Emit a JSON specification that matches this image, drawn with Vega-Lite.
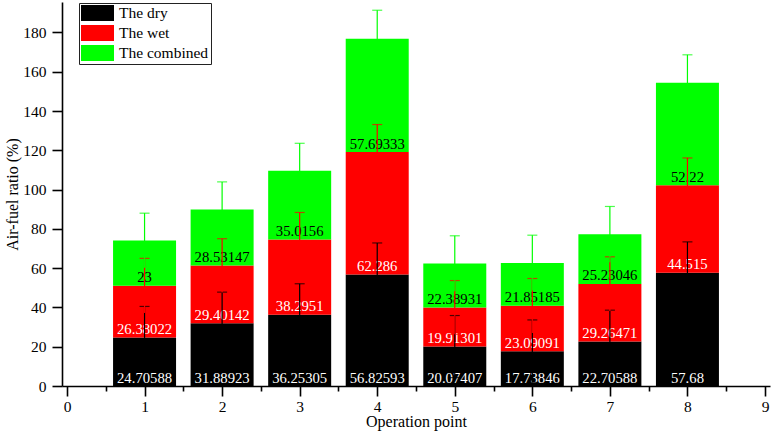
{
  "$schema": "https://vega.github.io/schema/vega-lite/v6.json",
  "width": 708,
  "height": 384,
  "autosize": "none",
  "padding": {"left": 62, "top": 2, "right": 10, "bottom": 46},
  "background": "white",
  "config": {
    "font": "Liberation Serif",
    "view": {"stroke": null},
    "axis": {
      "grid": false,
      "domainColor": "black",
      "domainWidth": 1.6,
      "tickColor": "black",
      "tickWidth": 1.6,
      "labelColor": "black",
      "labelFont": "Liberation Serif",
      "labelFontSize": 15.5,
      "titleFont": "Liberation Serif",
      "titleFontSize": 16,
      "titleFontWeight": "normal",
      "titleColor": "black"
    }
  },
  "data": {
    "values": [
      {"point": 1, "series": "The dry", "order": 0, "value": 24.70588, "err": 15.8},
      {"point": 1, "series": "The wet", "order": 1, "value": 26.38022, "err": 13.9},
      {"point": 1, "series": "The combined", "order": 2, "value": 23, "err": 13.9},
      {"point": 2, "series": "The dry", "order": 0, "value": 31.88923, "err": 15.9},
      {"point": 2, "series": "The wet", "order": 1, "value": 29.40142, "err": 13.7},
      {"point": 2, "series": "The combined", "order": 2, "value": 28.53147, "err": 14.1},
      {"point": 3, "series": "The dry", "order": 0, "value": 36.25305, "err": 15.8},
      {"point": 3, "series": "The wet", "order": 1, "value": 38.2951, "err": 13.8},
      {"point": 3, "series": "The combined", "order": 2, "value": 35.0156, "err": 14.0},
      {"point": 4, "series": "The dry", "order": 0, "value": 56.82593, "err": 16.0},
      {"point": 4, "series": "The wet", "order": 1, "value": 62.286, "err": 14.0},
      {"point": 4, "series": "The combined", "order": 2, "value": 57.69333, "err": 14.5},
      {"point": 5, "series": "The dry", "order": 0, "value": 20.07407, "err": 15.8},
      {"point": 5, "series": "The wet", "order": 1, "value": 19.91301, "err": 13.7},
      {"point": 5, "series": "The combined", "order": 2, "value": 22.38931, "err": 14.1},
      {"point": 6, "series": "The dry", "order": 0, "value": 17.73846, "err": 15.9},
      {"point": 6, "series": "The wet", "order": 1, "value": 23.09091, "err": 13.9},
      {"point": 6, "series": "The combined", "order": 2, "value": 21.85185, "err": 14.1},
      {"point": 7, "series": "The dry", "order": 0, "value": 22.70588, "err": 15.9},
      {"point": 7, "series": "The wet", "order": 1, "value": 29.26471, "err": 13.8},
      {"point": 7, "series": "The combined", "order": 2, "value": 25.23046, "err": 14.2},
      {"point": 8, "series": "The dry", "order": 0, "value": 57.68, "err": 15.7},
      {"point": 8, "series": "The wet", "order": 1, "value": 44.515, "err": 13.9},
      {"point": 8, "series": "The combined", "order": 2, "value": 52.22, "err": 14.2}
    ]
  },
  "transform": [
    {
      "stack": "value",
      "groupby": ["point"],
      "sort": [{"field": "order", "order": "ascending"}],
      "as": ["low", "high"]
    }
  ],
  "encoding": {
    "x": {
      "field": "point",
      "type": "quantitative",
      "scale": {"domain": [0, 9], "nice": false, "zero": false},
      "axis": {
        "title": "Operation point",
        "values": [0, 0.5, 1, 1.5, 2, 2.5, 3, 3.5, 4, 4.5, 5, 5.5, 6, 6.5, 7, 7.5, 8, 8.5, 9],
        "labelExpr": "datum.value % 1 === 0 ? format(datum.value, 'd') : ''",
        "tickSize": {"condition": {"test": "datum.value % 1 !== 0", "value": 5}, "value": 10},
        "labelPadding": 3,
        "titlePadding": -1,
        "labelFlush": false
      }
    }
  },
  "layer": [
    {
      "mark": {"type": "bar", "size": 63},
      "encoding": {
        "y": {
          "field": "low",
          "type": "quantitative",
          "title": "Air-fuel ratio (%)",
          "scale": {"domain": [0, 195.5], "nice": false},
          "axis": {
            "title": "Air-fuel ratio (%)",
            "values": [0, 10, 20, 30, 40, 50, 60, 70, 80, 90, 100, 110, 120, 130, 140, 150, 160, 170, 180, 190],
            "labelExpr": "datum.value % 20 === 0 ? datum.label : ''",
            "tickSize": {"condition": {"test": "datum.value % 20 !== 0", "value": 5}, "value": 10},
            "labelPadding": 6,
            "titlePadding": 2,
            "labelFlush": false
          }
        },
        "y2": {"field": "high"},
        "color": {
          "field": "series",
          "type": "nominal",
          "sort": ["The dry", "The wet", "The combined"],
          "scale": {
            "domain": ["The dry", "The wet", "The combined"],
            "range": ["#000000", "#ff0000", "#00ff00"]
          },
          "legend": {
            "title": null,
            "orient": "none",
            "legendX": 17,
            "legendY": 1,
            "direction": "vertical",
            "strokeColor": "#222222",
            "padding": 2,
            "rowPadding": 3,
            "symbolType": "M-1,-1H3.125V1H-1Z",
            "symbolSize": 256,
            "symbolStrokeWidth": 0,
            "symbolOpacity": 1,
            "labelOffset": 22,
            "labelFont": "Liberation Serif",
            "labelFontSize": 15.5,
            "labelColor": "black"
          }
        }
      }
    },
    {
      "mark": {"type": "text", "baseline": "alphabetic", "align": "center", "dy": -3.5, "fontSize": 14.7, "font": "Liberation Serif"},
      "encoding": {
        "y": {"field": "low", "type": "quantitative", "title": "Air-fuel ratio (%)"},
        "text": {"field": "value", "type": "quantitative", "format": "~f"},
        "color": {
          "field": "series",
          "type": "nominal",
          "scale": {
            "domain": ["The dry", "The wet", "The combined"],
            "range": ["#ffffff", "#ffffff", "#000000"]
          },
          "legend": null
        }
      }
    },
    {
      "mark": {"type": "errorbar", "ticks": {"size": 10}, "thickness": 1.2},
      "encoding": {
        "y": {"field": "high", "type": "quantitative", "title": "Air-fuel ratio (%)"},
        "yError": {"field": "err"},
        "color": {
          "field": "series",
          "type": "nominal",
          "scale": {
            "domain": ["The dry", "The wet", "The combined"],
            "range": ["#000000", "#ff0000", "#00ff00"]
          },
          "legend": null
        }
      }
    }
  ],
  "resolve": {"scale": {"color": "independent"}}
}
